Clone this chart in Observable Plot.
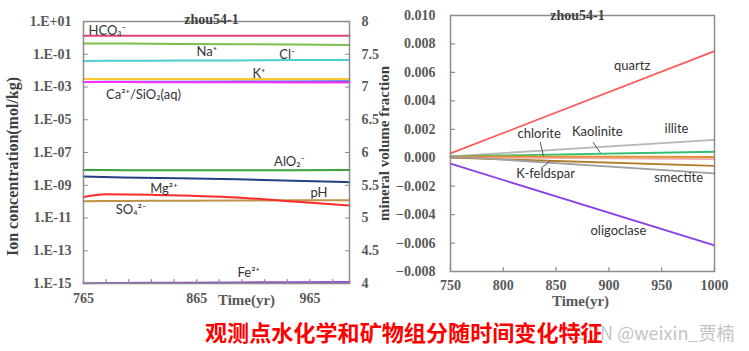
<!DOCTYPE html>
<html><head><meta charset="utf-8">
<script src="https://cdn.jsdelivr.net/npm/d3@7"></script>
<script src="https://cdn.jsdelivr.net/npm/@observablehq/plot@0.6"></script>
<style>
body{margin:0;background:#fff;}
#wrap{position:relative;width:749px;height:351px;overflow:hidden;background:#fff;}
#left{position:absolute;left:0;top:0;}
#right{position:absolute;left:370px;top:0;}
#wm{position:absolute;left:566px;top:319px;font:400 18px "Noto Sans CJK SC","Liberation Sans",sans-serif;color:#c4c4c4;white-space:nowrap;}
#cap{position:absolute;left:205px;top:315px;font:700 22.1px "Noto Sans CJK SC",sans-serif;color:#ff0000;white-space:nowrap;}
</style></head>
<body>
<div id="wrap"><div id="left"></div><div id="right"></div><div id="wm"></div><div id="cap"></div></div>
<script>
// ---------- Left panel data (ion concentrations, mol/kg; pH on right axis)
const ionTimes = [765, 800, 850, 900, 950, 1000];
const hco3 = [1.35, 1.35, 1.35, 1.35, 1.35, 1.35];
const naPlus = [0.46, 0.45, 0.43, 0.41, 0.39, 0.37];
const clMinus = [0.039, 0.040, 0.041, 0.042, 0.044, 0.045];
const kPlus = [0.0031, 0.0031, 0.0031, 0.0031, 0.0031, 0.0031];
const caPlus = [0.00204, 0.00200, 0.00196, 0.00193, 0.00190, 0.00188];
const sio2 = [0.00204, 0.00208, 0.00212, 0.00216, 0.00220, 0.00224];
const alo2 = [8.6e-9, 8.3e-9, 8.1e-9, 8.1e-9, 8.3e-9, 8.5e-9];
const so4 = [1.07e-10, 1.10e-10, 1.13e-10, 1.16e-10, 1.20e-10, 1.23e-10];
const fe = [1.05e-15, 1.08e-15, 1.12e-15, 1.16e-15, 1.20e-15, 1.25e-15];
const phValues = [5.634, 5.62, 5.605, 5.59, 5.57, 5.547];
const mgTimes = [765, 785, 825, 900, 930, 960, 1000];
const mgPlus = [1.9e-10, 2.8e-10, 2.6e-10, 1.8e-10, 1.3e-10, 9.1e-11, 5.8e-11];

const ionLabels = ["HCO₃⁻", "Na⁺", "Cl⁻", "K⁺", "Ca²⁺/SiO₂(aq)", "AlO₂⁻", "Mg²⁺", "pH", "SO₄²⁻", "Fe²⁺"];
const ionLabelTimes = [786, 874, 945, 920, 818, 947, 836, 973, 807, 911];
const ionLabelLogs = [0.45, -0.83, -1.02, -2.18, -3.46, -7.55, -9.2, -9.44, -10.48, -14.33];

const ionTickExps = [1, -1, -3, -5, -7, -9, -11, -13, -15];
const phTicks = [8, 7.5, 7, 6.5, 6, 5.5, 5, 4.5, 4];
const ionXTicks = [765, 865, 965];

// ---------- Right panel data (mineral volume fraction)
const mineralTimes = [750, 1000];
const quartz = [0.0003, 0.0075];
const illite = [0.0001, 0.00125];
const kaolinite = [0.0001, 0.00042];
const chlorite = [0.0001, 0.00005];
const otherMineral = [0.00005, -0.0001];
const kfeldspar = [0.0, -0.00058];
const smectite = [0.0001, -0.0011];
const oligoclase = [-0.00042, -0.00617];

const mineralLabels = ["quartz", "chlorite", "Kaolinite", "illite", "K-feldspar", "smectite", "oligoclase"];
const mineralLabelTimes = [922, 834, 889, 964, 840, 966, 909];
const mineralLabelValues = [0.00646, 0.00167, 0.00181, 0.00202, -0.00115, -0.00143, -0.00516];
const leaderT1 = [835, 885, 836];
const leaderV1 = [0.00110, 0.00110, -0.00072];
const leaderT2 = [838, 892, 845];
const leaderV2 = [0.00012, 0.00033, -0.00020];

const mineralYTicks = [0.010, 0.008, 0.006, 0.004, 0.002, 0, -0.002, -0.004, -0.006, -0.008];
const mineralXTicks = [750, 800, 850, 900, 950, 1000];

// ---------- helpers
const serif = "'Liberation Serif', 'Times New Roman', serif";
const sans = "Lato, 'Liberation Sans', sans-serif";
const tickCol = "#595959";
const frameCol = "#8c8c8c";
const lineShape = {draw(ctx, l) { ctx.moveTo(0, 0); ctx.lineTo(0, -l); }};
const phToY = p => 10 ** (-15 + (p - 4) * 4);
const yToPh = v => Math.round((4 + (Math.log10(v) + 15) / 4) * 10) / 10;
const fmtE = e => "1.E" + (e >= 0 ? "+" : "-") + String(Math.abs(e)).padStart(2, "0");

function rows(name, times, vals) { return times.map((t, i) => ({name, t, v: vals[i]})); }

const ionSeries = [
  {name: "HCO3", color: "#e0407a", data: rows("HCO3", ionTimes, hco3)},
  {name: "Na", color: "#7cbf4c", data: rows("Na", ionTimes, naPlus)},
  {name: "Cl", color: "#4cd0d0", data: rows("Cl", ionTimes, clMinus)},
  {name: "K", color: "#ffc830", data: rows("K", ionTimes, kPlus)},
  {name: "SiO2", color: "#4a66d6", data: rows("SiO2", ionTimes, sio2)},
  {name: "Ca", color: "#ff30ff", data: rows("Ca", ionTimes, caPlus)},
  {name: "AlO2", color: "#3aa03a", data: rows("AlO2", ionTimes, alo2)},
  {name: "pH", color: "#233f85", data: rows("pH", ionTimes, phValues.map(phToY))},
  {name: "SO4", color: "#c0924a", data: rows("SO4", ionTimes, so4)},
  {name: "Mg", color: "#ff2a2a", data: rows("Mg", mgTimes, mgPlus)},
  {name: "Fe", color: "#9050c8", data: rows("Fe", ionTimes, fe)}
];

const ionYTickVals = ionTickExps.map(e => 10 ** e);
const ionLabelRows = ionLabels.map((s, i) => ({s, t: ionLabelTimes[i], v: 10 ** ionLabelLogs[i]}));
const bottomTicksL = d3.range(765, 1000, 20);

const left = Plot.plot({
  width: 385, height: 310,
  marginLeft: 83, marginRight: 36, marginTop: 21, marginBottom: 27,
  style: {background: "transparent", overflow: "visible"},
  x: {domain: [765, 1000]},
  y: {type: "log", domain: [1e-15, 10]},
  marks: [
    ...ionSeries.map(s => Plot.line(s.data, {x: "t", y: "v", stroke: s.color, strokeWidth: 2, curve: "monotone-x"})),
    Plot.frame({stroke: frameCol, strokeWidth: 1.5}),
    Plot.axisY({ticks: ionYTickVals, tickFormat: v => fmtE(Math.round(Math.log10(v))), tickSize: 0, tickPadding: 12,
      fontSize: 14, fontWeight: "bold", fontFamily: serif, fill: tickCol, label: null}),
    Plot.axisY({anchor: "right", ticks: phTicks.map(phToY), tickFormat: v => String(yToPh(v)), tickSize: 0, tickPadding: 12,
      fontSize: 14, fontWeight: "bold", fontFamily: serif, fill: tickCol, label: null, textAnchor: "start"}),
    Plot.axisX({ticks: ionXTicks, tickFormat: d => String(d), tickSize: 0, tickPadding: 10,
      fontSize: 14, fontWeight: "bold", fontFamily: serif, fill: tickCol, label: null}),
    Plot.vector(ionYTickVals, {x: 765, y: d => d, length: 4, rotate: 90, anchor: "start", shape: lineShape, stroke: frameCol, strokeWidth: 1.2}),
    Plot.vector(phTicks.map(phToY), {x: 1000, y: d => d, length: 4, rotate: -90, anchor: "start", shape: lineShape, stroke: frameCol, strokeWidth: 1.2}),
    Plot.vector(bottomTicksL, {x: d => d, y: 1e-15, length: 4, rotate: 0, anchor: "start", shape: lineShape, stroke: frameCol, strokeWidth: 1.2}),
    Plot.text(ionLabelRows, {x: "t", y: "v", text: "s", fontSize: 13, fontFamily: sans, fill: "#333"}),
    Plot.text(["zhou54-1"], {frameAnchor: "top", dx: -5, dy: -7, fontSize: 14, fontWeight: "bold", fontFamily: serif, fill: "#404040"}),
    Plot.text(["Time(yr)"], {frameAnchor: "bottom", lineAnchor: "middle", dx: 30, dy: 17, fontSize: 15, fontWeight: "bold", fontFamily: serif, fill: tickCol}),
    Plot.text(["Ion concentration(mol/kg)"], {frameAnchor: "left", textAnchor: "middle", lineAnchor: "middle", rotate: -90, dx: -71, dy: 14, fontSize: 16, fontWeight: "bold", fontFamily: serif, fill: "#404040"})
  ]
});
document.getElementById("left").append(left);

// ---------- Right panel
const mineralSeries = [
  {color: "#b8b8b8", vals: illite},
  {color: "#30c070", vals: kaolinite},
  {color: "#f0a8a8", vals: otherMineral},
  {color: "#e09030", vals: chlorite},
  {color: "#b07c28", vals: kfeldspar},
  {color: "#a0a0a0", vals: smectite},
  {color: "#ff5a5a", vals: quartz},
  {color: "#8a3ee6", vals: oligoclase}
];
const mineralLabelRows = mineralLabels.map((s, i) => ({s, t: mineralLabelTimes[i], v: mineralLabelValues[i]}));
const leaderRows = leaderT1.map((t, i) => ({t1: t, v1: leaderV1[i], t2: leaderT2[i], v2: leaderV2[i]}));

const right = Plot.plot({
  width: 379, height: 310,
  marginLeft: 80, marginRight: 35, marginTop: 15, marginBottom: 39,
  style: {background: "transparent", overflow: "visible"},
  x: {domain: [750, 1000]},
  y: {domain: [-0.008, 0.010]},
  marks: [
    ...mineralSeries.map(s => Plot.line(mineralTimes.map((t, i) => ({t, v: s.vals[i]})), {x: "t", y: "v", stroke: s.color, strokeWidth: 1.8})),
    Plot.frame({stroke: frameCol, strokeWidth: 1.5}),
    Plot.axisY({ticks: mineralYTicks, tickFormat: d3.format(".3f"), tickSize: 0, tickPadding: 15,
      fontSize: 14, fontWeight: "bold", fontFamily: serif, fill: tickCol, label: null}),
    Plot.axisX({ticks: mineralXTicks, tickFormat: d => String(d), tickSize: 0, tickPadding: 9,
      fontSize: 14, fontWeight: "bold", fontFamily: serif, fill: tickCol, label: null}),
    Plot.vector(mineralYTicks, {x: 750, y: d => d, length: 4, rotate: 90, anchor: "start", shape: lineShape, stroke: frameCol, strokeWidth: 1.2}),
    Plot.vector(mineralXTicks, {x: d => d, y: -0.008, length: 4, rotate: 0, anchor: "start", shape: lineShape, stroke: frameCol, strokeWidth: 1.2}),
    Plot.link(leaderRows, {x1: "t1", y1: "v1", x2: "t2", y2: "v2", stroke: "#555", strokeWidth: 1}),
    Plot.text(mineralLabelRows, {x: "t", y: "v", text: "s", fontSize: 13, fontFamily: sans, fill: "#333"}),
    Plot.text(["zhou54-1"], {frameAnchor: "top", dx: -5, dy: -5, fontSize: 14, fontWeight: "bold", fontFamily: serif, fill: "#404040"}),
    Plot.text(["Time(yr)"], {frameAnchor: "bottom", lineAnchor: "middle", dx: -2, dy: 30, fontSize: 15, fontWeight: "bold", fontFamily: serif, fill: tickCol}),
    Plot.text(["mineral volume fraction"], {frameAnchor: "left", textAnchor: "middle", lineAnchor: "middle", rotate: -90, dx: -66, dy: 0, fontSize: 15, fontWeight: "bold", fontFamily: serif, fill: "#404040"})
  ]
});
document.getElementById("right").append(right);

document.getElementById("wm").textContent = "CSDN @weixin_贾楠";
document.getElementById("cap").textContent = "观测点水化学和矿物组分随时间变化特征";
</script>
</body></html>
